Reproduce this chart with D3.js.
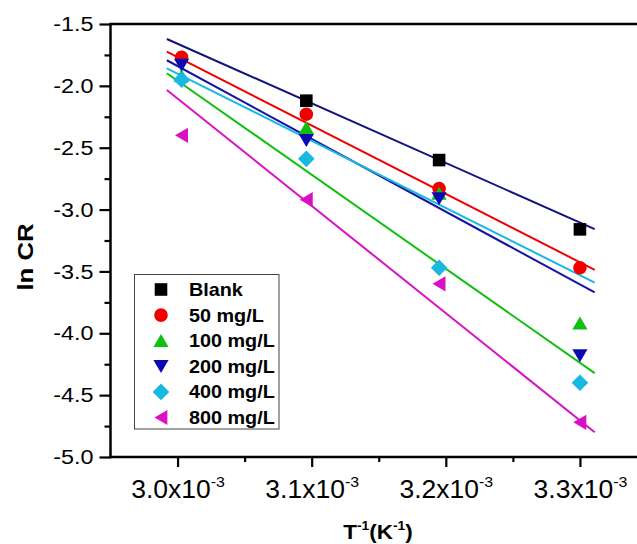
<!DOCTYPE html>
<html>
<head>
<meta charset="utf-8">
<script src="https://cdn.jsdelivr.net/npm/d3@7"></script>
<style>
  html, body { margin: 0; padding: 0; background: #fff; }
  svg { display: block; }
  text { font-family: "Liberation Sans", Arial, sans-serif; fill: #000; }
</style>
</head>
<body>
<script>
// ---------- data ----------
const invT = [3.003e-3, 3.096e-3, 3.195e-3, 3.300e-3];
const seriesNames = ["Blank", "50 mg/L", "100 mg/L", "200 mg/L", "400 mg/L", "800 mg/L"];
const blank = [null, -2.12, -2.60, -3.16];   // first point not visible in the reference
const mg50  = [-1.77, -2.23, -2.83, -3.47];
const mg100 = [-1.92, -2.34, -2.87, -3.92];
const mg200 = [-1.83, -2.44, -2.91, -4.18];
const mg400 = [-1.95, -2.59, -3.47, -4.40];
const mg800 = [-2.40, -2.92, -3.60, -4.72];
// linear fit lines: value at fitX[0] and fitX[1]
const fitX = [2.992e-3, 3.311e-3];
const fitStart = [-1.621, -1.724, -1.898, -1.793, -1.858, -2.033];
const fitEnd   = [-3.158, -3.487, -4.322, -3.670, -3.590, -4.800];
const yTicks = [-5.0, -4.5, -4.0, -3.5, -3.0, -2.5, -2.0, -1.5];
const yMinor = [-4.75, -4.25, -3.75, -3.25, -2.75, -2.25, -1.75];
const xTicks = [3.0e-3, 3.1e-3, 3.2e-3, 3.3e-3];
const xMinor = [3.05e-3, 3.15e-3, 3.25e-3];

const seriesValues = [blank, mg50, mg100, mg200, mg400, mg800];
const markerColors = ["#000000", "#f00000", "#10c010", "#0a0ab0", "#18b8e0", "#d812c4"];
const lineColors   = ["#14147e", "#f00000", "#10c010", "#1414a6", "#18b8e0", "#d812c4"];
const shapes = ["square", "circle", "up", "down", "diamond", "left"];

// ---------- layout ----------
const W = 637, H = 544;
const svg = d3.select("body").append("svg").attr("width", W).attr("height", H);
svg.append("rect").attr("width", W).attr("height", H).attr("fill", "#fff");

const x = d3.scaleLinear().domain([2.95e-3, 3.35e-3]).range([110.5, 647]);
const y = d3.scaleLinear().domain([-5.0, -1.5]).range([457, 24]);

function shapePath(s) {
  switch (s) {
    case "square": return "M-6.3,-6.3h12.6v12.6h-12.6Z";
    case "circle": return d3.symbol(d3.symbolCircle, Math.PI * 6.8 * 6.8)();
    case "up": return "M0,-6.8L7.6,6.2L-7.6,6.2Z";
    case "down": return "M-7.6,-6.2L7.6,-6.2L0,6.8Z";
    case "diamond": return "M0,-8.3L8.3,0L0,8.3L-8.3,0Z";
    case "left": return "M-6.6,0L6.4,-7.6L6.4,7.6Z";
  }
}

// ---------- fit lines ----------
const line = d3.line().x(d => x(d[0])).y(d => y(d[1]));
seriesNames.forEach((n, i) => {
  svg.append("path")
    .attr("d", line([[fitX[0], fitStart[i]], [fitX[1], fitEnd[i]]]))
    .attr("fill", "none").attr("stroke", lineColors[i]).attr("stroke-width", 2);
});

// ---------- markers ----------
seriesNames.forEach((n, i) => {
  svg.append("g").selectAll("path")
    .data(invT.map((t, k) => [t, seriesValues[i][k]]).filter(d => d[1] != null))
    .join("path")
    .attr("d", shapePath(shapes[i]))
    .attr("transform", d => `translate(${x(d[0])},${y(d[1])})`)
    .attr("fill", markerColors[i]);
});

// ---------- axes ----------
const yAxis = svg.append("g").attr("transform", "translate(110.5,0)")
  .call(d3.axisLeft(y).tickValues(yTicks).tickSize(11).tickPadding(6)
    .tickFormat(d => d.toFixed(1)));
const yAxisMinor = svg.append("g").attr("transform", "translate(110.5,0)")
  .call(d3.axisLeft(y).tickValues(yMinor).tickSize(6).tickFormat(""));
const xAxis = svg.append("g").attr("transform", "translate(0,457)")
  .call(d3.axisBottom(x).tickValues(xTicks).tickSize(10).tickPadding(8)
    .tickFormat(""));
const xAxisMinor = svg.append("g").attr("transform", "translate(0,457)")
  .call(d3.axisBottom(x).tickValues(xMinor).tickSize(5).tickFormat(""));

[yAxis, yAxisMinor, xAxis, xAxisMinor].forEach(g => {
  g.select(".domain").remove();
  g.selectAll(".tick line").attr("stroke", "#000").attr("stroke-width", 2.2);
});

const ySx = 1.14;
yAxis.selectAll(".tick text")
  .attr("font-size", 20.5)
  .attr("x", -17 / ySx)
  .attr("transform", `scale(${ySx},1)`)
  .style("font-family", "'Liberation Sans', Arial, sans-serif");

const xSx = 1.06;
xAxis.selectAll(".tick text").each(function (d) {
  const t = d3.select(this);
  t.text(null).attr("font-size", 25).attr("y", 41).attr("dy", null)
    .attr("transform", `scale(${xSx},1)`);
  t.append("tspan").text((d * 1000).toFixed(1) + "x10");
  t.append("tspan").attr("font-size", 15).attr("dy", -11).text("-3");
});

// frame lines (left, bottom, top)
svg.append("line").attr("x1", 110.5).attr("x2", 110.5).attr("y1", 24).attr("y2", 458.2)
  .attr("stroke", "#000").attr("stroke-width", 2.5);
svg.append("line").attr("x1", 109.3).attr("x2", W).attr("y1", 457).attr("y2", 457)
  .attr("stroke", "#000").attr("stroke-width", 2.5);
svg.append("line").attr("x1", 109.3).attr("x2", W).attr("y1", 24).attr("y2", 24)
  .attr("stroke", "#000").attr("stroke-width", 2.5);

// ---------- axis titles ----------
svg.append("text")
  .attr("transform", `translate(33,257) rotate(-90) scale(1.12,1)`)
  .attr("text-anchor", "middle").attr("font-size", 23).attr("font-weight", "bold")
  .text("ln CR");

const xt = svg.append("text")
  .attr("transform", `translate(378,539) scale(1.07,1)`)
  .attr("text-anchor", "middle").attr("font-size", 21).attr("font-weight", "bold");
xt.append("tspan").text("T");
xt.append("tspan").attr("font-size", 13).attr("dy", -9).text("-1");
xt.append("tspan").attr("dy", 9).text("(K");
xt.append("tspan").attr("font-size", 13).attr("dy", -9).text("-1");
xt.append("tspan").attr("dy", 9).text(")");

// ---------- legend ----------
const lg = svg.append("g");
lg.append("rect").attr("x", 134.5).attr("y", 274.5).attr("width", 144.5).attr("height", 154.5)
  .attr("fill", "#fff").attr("stroke", "#444").attr("stroke-width", 1);
seriesNames.forEach((n, i) => {
  const cy = 289.5 + i * 25.6;
  lg.append("path").attr("d", shapePath(shapes[i]))
    .attr("transform", `translate(161,${cy})`).attr("fill", markerColors[i]);
  lg.append("text").attr("transform", `translate(189,${cy + 6.5}) scale(1.1,1)`)
    .attr("font-size", 18).attr("font-weight", "bold").text(n);
});
</script>
</body>
</html>
